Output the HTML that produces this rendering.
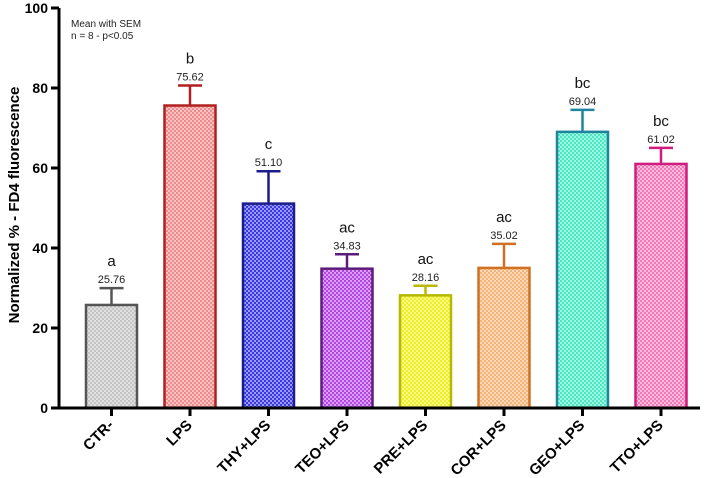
<!DOCTYPE html>
<html><head><meta charset="utf-8"><style>
html,body{margin:0;padding:0;background:#fff;}
svg{display:block;font-family:"Liberation Sans",Arial,sans-serif;}
</style></head><body>
<svg id="chart" width="718" height="478" viewBox="0 0 718 478" xmlns="http://www.w3.org/2000/svg">
<defs id="defs"></defs>
<g id="plot"></g>
</svg>
<script>
const categories = ["CTR-","LPS","THY+LPS","TEO+LPS","PRE+LPS","COR+LPS","GEO+LPS","TTO+LPS"];
const means = [25.76,75.62,51.10,34.83,28.16,35.02,69.04,61.02];
const sem = [4.2,5.0,8.1,3.6,2.4,6.0,5.5,4.0];
const letters = ["a","b","c","ac","ac","ac","bc","bc"];
const yTicks = [0,20,40,60,80,100];
const fills = ["#c4c4c4","#f08a8a","#3838e8","#b444e4","#f0f020","#f4b478","#48e8c4","#f478b8"];
const strokes = ["#555555","#b02020","#1c1c8c","#5c1c7c","#b8b800","#d07020","#20849c","#d01c7c"];

const NS="http://www.w3.org/2000/svg";
const svg=document.getElementById('chart'), plot=document.getElementById('plot'), defs=document.getElementById('defs');
const y0=408, yScale=4;
function yPos(v){return y0-v*yScale;}
function xPos(i){return 111.5+i*78.5;}
function mk(tag,attrs,parent){const e=document.createElementNS(NS,tag);for(const k in attrs)e.setAttribute(k,attrs[k]);(parent||plot).appendChild(e);return e;}

fills.forEach((f,i)=>{
  const p=mk('pattern',{id:'pat'+i,width:4,height:4,patternUnits:'userSpaceOnUse'},defs);
  mk('rect',{x:0,y:0,width:4,height:4,fill:'#ffffff'},p);
  mk('rect',{x:0,y:0,width:2,height:2,fill:f},p);
  mk('rect',{x:2,y:2,width:2,height:2,fill:f},p);
  mk('rect',{x:0,y:0,width:4,height:4,fill:f,opacity:0.5},p);
});

categories.forEach((c,i)=>{
  const cx=xPos(i), w=51, top=yPos(means[i]), cap=yPos(means[i]+sem[i]);
  const eb=mk('line',{x1:cx,x2:cx,y1:top,y2:cap,stroke:strokes[i],'stroke-width':2.5});
  
  
  const ec=mk('line',{x1:cx-12,x2:cx+12,y1:cap,y2:cap,stroke:strokes[i],'stroke-width':2.5});
  
  
  const r=mk('rect',{x:cx-w/2,y:top,width:w,height:y0-top,fill:'url(#pat'+i+')',stroke:strokes[i],'stroke-width':2.5});
  
  
  const vt=mk('text',{x:cx,y:cap-5,'text-anchor':'middle','font-size':11,fill:'#222'});
  vt.textContent=means[i].toFixed(2);
  
  
  const lt=mk('text',{x:cx,y:cap-22,'text-anchor':'middle','font-size':15,fill:'#111'});
  lt.textContent=letters[i];
  
  
  const tk=mk('line',{x1:cx,x2:cx,y1:y0,y2:y0+8,stroke:'#000','stroke-width':3});
  
  
  const lx=cx+3, ly=y0+18;
  const xl=mk('text',{x:lx,y:ly,'text-anchor':'end','font-size':15,'font-weight':'bold',fill:'#000',transform:'rotate(-45 '+lx+' '+ly+')'});
  xl.textContent=c;
  
  
});

const ya=mk('line',{x1:59,x2:59,y1:8,y2:y0+1.5,stroke:'#000','stroke-width':3});


const xa=mk('line',{x1:52,x2:700,y1:y0,y2:y0,stroke:'#000','stroke-width':3});


yTicks.forEach(t=>{
  const yy=yPos(t);
  const tl=mk('line',{x1:51,x2:59,y1:yy,y2:yy,stroke:'#000','stroke-width':3});
  
  
  const tt=mk('text',{x:48,y:yy+5,'text-anchor':'end','font-size':14,'font-weight':'bold',fill:'#000'});
  tt.textContent=t;
  
  
});
const yt=mk('text',{x:19,y:205,'text-anchor':'middle','font-size':15,'font-weight':'bold',fill:'#000',transform:'rotate(-90 19 205)'});
yt.textContent='Normalized % - FD4 fluorescence';


const n1=mk('text',{x:71,y:27,'font-size':10,fill:'#222'});
n1.textContent='Mean with SEM';


const n2=mk('text',{x:71,y:39,'font-size':10,fill:'#222'});
n2.textContent='n = 8 - p<0.05';


</script>
</body></html>
